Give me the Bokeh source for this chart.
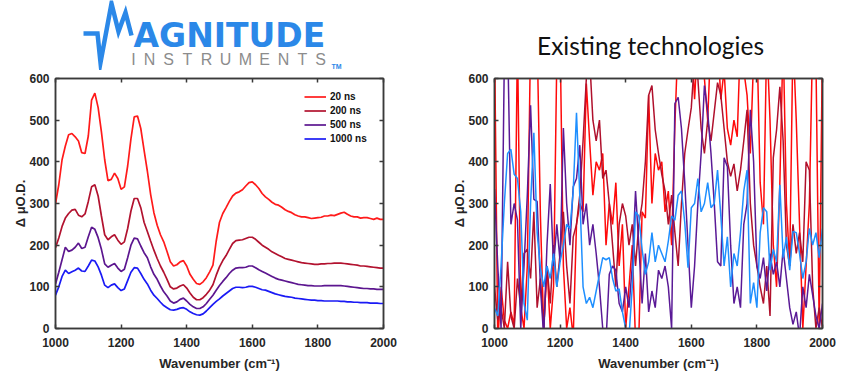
from bokeh.plotting import figure
from bokeh.models import Range1d, FixedTicker, LinearAxis, Legend, LegendItem
from bokeh.layouts import row, column
from bokeh.core.properties import value
from bokeh.embed import file_html
from bokeh.resources import INLINE

# ---------------- data ----------------
wavenumber = list(range(1000, 2001, 10))
x_ticks = [1000, 1200, 1400, 1600, 1800, 2000]
y_ticks = [0, 100, 200, 300, 400, 500, 600]
series_labels = ["20 ns", "200 ns", "500 ns", "1000 ns"]

# Magnitude Instruments measurement (left panel)
mag_20ns = [300, 345, 405, 438, 465, 468, 460, 450, 422, 420,
            462, 548, 565, 530, 472, 405, 355, 358, 373, 360,
            334, 340, 390, 455, 508, 510, 480, 428, 378, 322,
            278, 248, 225, 208, 185, 160, 150, 153, 160, 163,
            150, 130, 118, 108, 106, 112, 122, 136, 152, 210,
            255, 276, 290, 305, 318, 325, 328, 333, 342, 350,
            352, 345, 336, 324, 316, 310, 303, 298, 296, 291,
            285, 281, 278, 273, 270, 268, 268, 266, 264, 265,
            266, 267, 270, 270, 272, 271, 274, 277, 279, 274,
            270, 268, 268, 265, 266, 266, 264, 262, 265, 262,
            262]
mag_200ns = [194, 217, 245, 265, 276, 284, 286, 272, 268, 275,
             305, 340, 345, 318, 270, 225, 213, 220, 225, 212,
             202, 208, 240, 282, 312, 312, 290, 255, 233, 210,
             188, 168, 150, 135, 118, 100, 95, 97, 102, 105,
             97, 85, 75, 69, 69, 74, 82, 92, 105, 128,
             148, 163, 175, 190, 204, 211, 212, 213, 216, 219,
             219, 214, 207, 200, 195, 190, 184, 180, 176, 172,
             168, 166, 164, 162, 160, 158, 157, 156, 155, 154,
             154, 155, 155, 156, 156, 157, 157, 157, 156, 155,
             154, 153, 152, 150, 150, 149, 148, 147, 146, 145,
             145]
mag_500ns = [107, 135, 165, 195, 185, 188, 195, 205, 192, 195,
             220, 243, 238, 218, 190, 155, 147, 152, 156, 145,
             137, 142, 170, 200, 217, 215, 198, 182, 170, 148,
             130, 118, 102, 88, 78, 66, 61, 64, 70, 73,
             66, 58, 52, 48, 48, 52, 60, 70, 80, 92,
             103, 113, 122, 132, 140, 145, 146, 146, 147, 150,
             150, 146, 141, 137, 133, 129, 125, 121, 118, 116,
             114, 112, 110, 108, 106, 105, 104, 103, 103, 102,
             102, 102, 103, 103, 103, 103, 103, 103, 102, 101,
             100, 99, 98, 97, 96, 96, 95, 95, 94, 94,
             94]
mag_1000ns = [80, 100, 125, 140, 132, 136, 140, 145, 138, 137,
              150, 164, 162, 148, 128, 104, 98, 104, 107, 98,
              91, 95, 115, 135, 146, 145, 132, 118, 107, 92,
              80, 72, 63, 55, 50, 45, 44, 46, 49, 50,
              46, 40, 36, 33, 32, 35, 42, 50, 58, 65,
              71, 78, 84, 90, 96, 99, 99, 98, 99, 101,
              101, 99, 96, 93, 92, 89, 86, 83, 81, 79,
              77, 76, 75, 73, 72, 71, 70, 69, 68, 68,
              67, 67, 66, 66, 66, 66, 66, 65, 65, 64,
              64, 63, 63, 62, 62, 62, 61, 61, 61, 60,
              60]

# Existing technologies (right panel)
ext_20ns = [700, -30, 100, 20, 0, 40, 10, 700, 50, 0,
            150, 700, 600, 700, 270, 0, 150, 0, 100, 650,
            700, 150, 0, 50, -20, 250, 300, 280, 588, 450,
            320, 400, 380, 420, 200, 300, 250, 350, 150, 250,
            0, 100, 200, -30, -20, 280, 265, 560, 300, 420,
            380, 400, 280, 330, 200, 490, 700, 650, 700, 620,
            700, 550, 700, 650, 600, 500, 700, 620, 700, 550,
            620, 480, 440, 500, 460, 700, 620, 560, 420, 650,
            700, 350, 250, 700, 500, 200, 100, 350, 700, 300,
            150, 700, 500, 250, 0, 150, 300, 700, 650, 0,
            700]
ext_200ns = [100, 20, 50, 0, 160, 30, 0, 120, 50, 180,
             190, 120, 280, 50, 120, 0, 150, 60, 200, 100,
             180, 280, 150, 60, 220, 250, 320, 450, 600, 650,
             500, 450, 500, 360, 380, 300, 200, 100, 250, 300,
             270, 200, 250, 150, 250, 300, 400, 560, 583, 477,
             420, 370, 330, 250, 320, 230, 150, 300, 420, 477,
             530, 650, 600, 480, 420, 500, 450, 520, 590, 560,
             480, 400, 365, 395, 330, 380, 450, 525, 300, 200,
             150, 100, 60, 150, 30, 410, 477, 580, 450, 200,
             150, 250, 180, 230, 160, 400, 380, 100, 0, 50,
             0]
ext_500ns = [335, 150, 0, 650, 700, 250, 300, 260, 0, 150,
             320, 536, 310, 305, 100, -20, 200, 347, 150, 250,
             160, 481, 300, 200, 340, 360, 440, 250, 300, 200,
             250, 180, 100, 0, -30, 130, 150, 140, 60, 40,
             100, 50, 150, 330, 200, 60, 180, 40, 90, 50,
             140, 120, 150, 100, 0, 540, 555, 480, 350, 200,
             50, 150, 300, 420, 583, 520, 420, 300, 160, 150,
             410, 388, 200, 60, 100, 50, 250, 300, 525, 400,
             150, 120, 170, 90, 180, 130, 160, 100, 190, 120,
             50, 10, 40, -20, 100, 50, 130, 80, 30, 0,
             60]
ext_1000ns = [50, 30, 150, 300, 420, 430, 370, 360, 280, 60,
              20, 300, 470, 230, 145, 100, 150, 120, 180, 100,
              160, 200, 250, 240, 330, 518, 320, 100, 60, 75,
              50, 90, 130, 170, 165, 170, 120, 90, 95, 40,
              0, -20, 100, 280, 270, 190, 130, 160, 230, 160,
              200, 180, 160, 210, 270, 260, 320, 330, 255, 146,
              290, 300, 360, 280, 300, 350, 290, 300, 380, 270,
              150, 220, 100, 180, 150, 230, 330, 380, 60, 110,
              50, 230, 290, 280, 140, 190, 160, 345, 170, 220,
              140, 233, 230, 180, 120, 160, 240, 200, 230, 170,
              240]

# logo decoration (header pixel coordinates, y downward)
logo_word = "AGNITUDE"
logo_letters = list("INSTRUMENTS")
logo_letter_x = [133, 149, 168, 187, 206, 225, 245, 264, 283, 302, 320]
logo_wave_x = [83, 97, 100, 111, 118, 125, 131]
logo_wave_y = [33, 33, 62, 3, 31, 12, 35]
title_text = "Existing technologies"

# ---------------- style ----------------
AX = "#3a3a3a"
TXT = "#262626"
FONT = "Liberation Sans"
BLUE_LOGO = "#2B88E8"
left_colors = ["#FF1A1A", "#B2122F", "#5C168F", "#1A1AF5"]
right_colors = ["#FF0A0A", "#B0102C", "#5A1A96", "#1E8FFF"]

HEAD_H = 70
PLOT_H = 303
FRAME_H = 254
LEFT_W = 438
RIGHT_W = 424


def style_axis(ax):
    ax.axis_line_color = AX
    ax.axis_line_width = 1.5
    ax.major_tick_line_color = AX
    ax.major_tick_line_width = 1.5
    ax.major_tick_in = 4
    ax.major_tick_out = 0
    ax.minor_tick_line_color = None
    ax.major_label_text_font = FONT
    ax.major_label_text_font_style = "bold"
    ax.major_label_text_font_size = "12px"
    ax.major_label_text_color = TXT
    ax.major_label_standoff = 6
    ax.axis_label_text_font = FONT
    ax.axis_label_text_font_style = "bold"
    ax.axis_label_text_font_size = "13px"
    ax.axis_label_text_color = TXT


def make_fig(width, mbl, mbr):
    p = figure(width=width, height=PLOT_H,
               x_range=Range1d(1000, 2000), y_range=Range1d(0, 600),
               output_backend="svg", toolbar_location=None,
               min_border_left=mbl, min_border_right=mbr,
               min_border_top=8, min_border_bottom=PLOT_H - 8 - FRAME_H,
               x_axis_label="Wavenumber (cm\u207b\u00b9)",
               y_axis_label="\u0394 \u03bcO.D.")
    p.xgrid.visible = False
    p.ygrid.visible = False
    p.outline_line_color = AX
    p.outline_line_width = 1.5
    bottom = p.below[0]
    leftax = p.left[0]
    bottom.ticker = FixedTicker(ticks=x_ticks)
    leftax.ticker = FixedTicker(ticks=y_ticks)
    style_axis(bottom)
    style_axis(leftax)
    bottom.major_label_standoff = 9
    bottom.axis_label_standoff = 6
    leftax.axis_label_standoff = -2
    top = LinearAxis(ticker=FixedTicker(ticks=x_ticks),
                     major_label_overrides={t: "" for t in x_ticks})
    rightax = LinearAxis(ticker=FixedTicker(ticks=y_ticks),
                         major_label_overrides={t: "" for t in y_ticks})
    style_axis(top)
    style_axis(rightax)
    top.major_label_standoff = 0
    top.major_label_text_font_size = "0px"
    rightax.major_label_standoff = 0
    rightax.major_label_text_font_size = "0px"
    p.add_layout(top, "above")
    p.add_layout(rightax, "right")
    return p


def make_header(width):
    h = figure(width=width, height=HEAD_H, x_range=Range1d(0, width),
               y_range=Range1d(HEAD_H, 0), x_axis_type=None, y_axis_type=None,
               output_backend="svg", toolbar_location=None,
               min_border_left=0, min_border_right=0, min_border_top=0,
               min_border_bottom=0, frame_align=False)
    h.xgrid.visible = False
    h.ygrid.visible = False
    h.outline_line_color = None
    return h


# ---------------- left panel ----------------
left = make_fig(LEFT_W, 55, LEFT_W - 55 - 328)
rends = []
for ys, c in zip([mag_20ns, mag_200ns, mag_500ns, mag_1000ns], left_colors):
    rends.append(left.line(wavenumber, ys, line_color=c, line_width=1.7))

legend = Legend(items=[LegendItem(label=l, renderers=[r]) for l, r in zip(series_labels, rends)],
                location=(249, 184), padding=0, margin=0, spacing=3,
                glyph_width=22, glyph_height=11, label_height=11, label_standoff=4,
                border_line_color=None, background_fill_alpha=0,
                label_text_font=FONT, label_text_font_style="bold",
                label_text_font_size="10px", label_text_color="#111111")
left.add_layout(legend)

logo = make_header(LEFT_W)
logo.line(logo_wave_x, logo_wave_y, line_color=BLUE_LOGO, line_width=4.5, line_join="miter")
logo.text(x=[133], y=[35], text=[logo_word],
          text_font=value("DejaVu Sans"), text_font_style="bold",
          text_font_size=value("33px"), text_color=BLUE_LOGO,
          text_baseline="alphabetic", text_align="left")
logo.text(x=logo_letter_x, y=[59] * 11, text=logo_letters,
          text_font=value(FONT), text_font_size=value("16px"), text_color="#8C8C8C",
          text_align="center", text_baseline="middle")
logo.text(x=[331], y=[66], text=["TM"], text_font=value(FONT), text_font_style="bold",
          text_font_size=value("7px"), text_color=BLUE_LOGO, text_baseline="middle")

# ---------------- right panel ----------------
right = make_fig(RIGHT_W, 494 - LEFT_W, RIGHT_W - (494 - LEFT_W) - 328)
for ys, c in zip([ext_20ns, ext_200ns, ext_500ns, ext_1000ns], right_colors):
    right.line(wavenumber, ys, line_color=c, line_width=1.5)

head_r = make_header(RIGHT_W)
head_r.text(x=[650 - LEFT_W], y=[45], text=[title_text], text_font=value("Lato"),
            text_font_size=value("24.5px"), text_color="#111111",
            text_align="center", text_baseline="middle")

layout = row(column(logo, left), column(head_r, right))
open("out.html", "w").write(file_html(layout, INLINE))
